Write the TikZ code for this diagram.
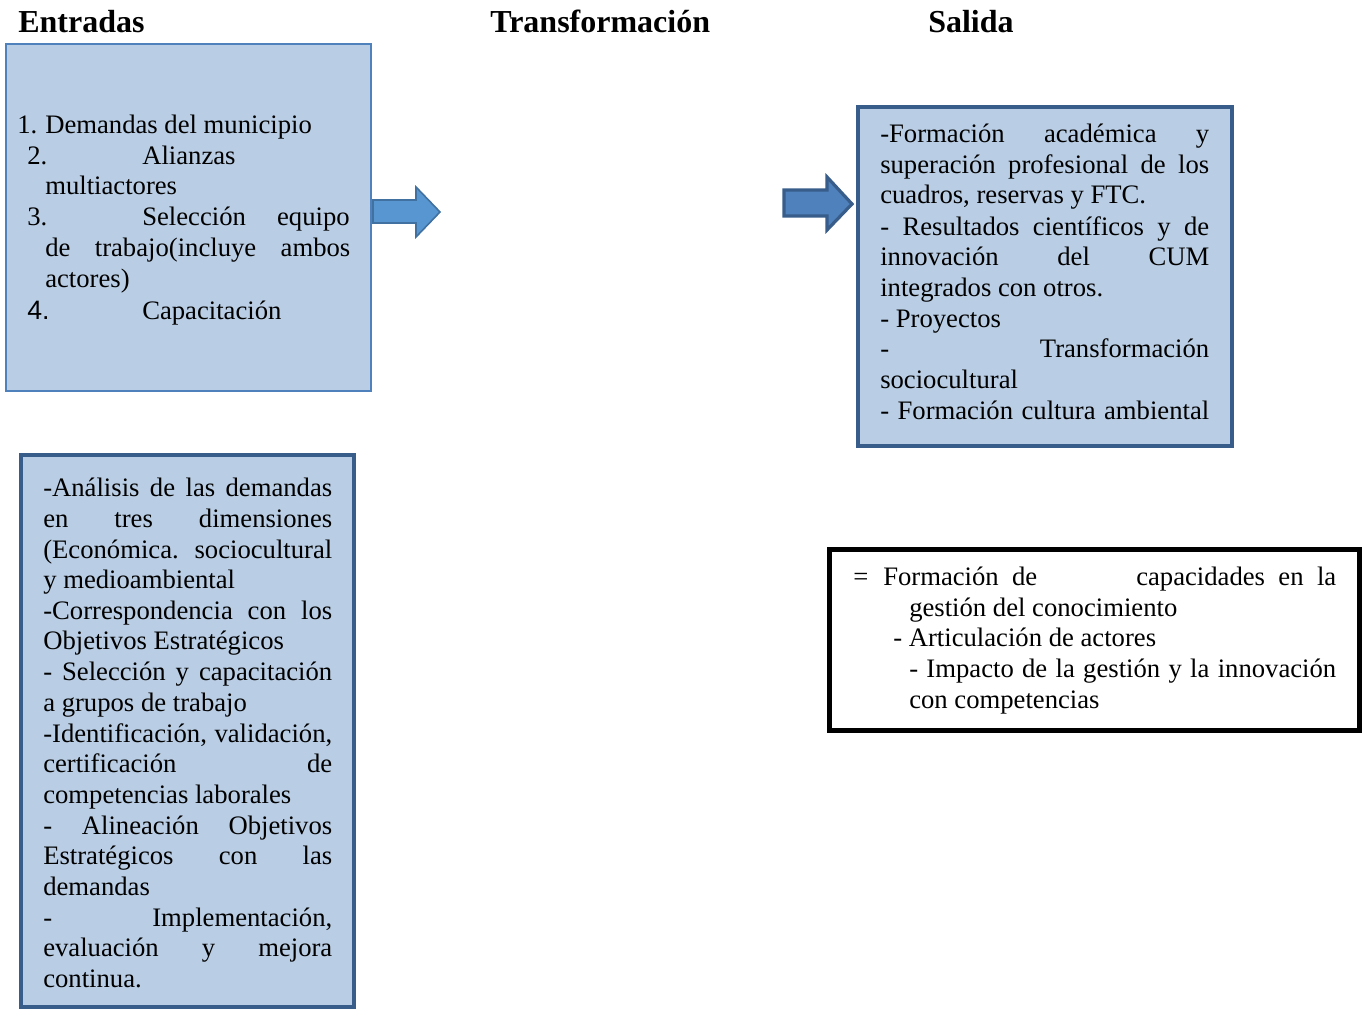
\documentclass[tikz,border=0pt]{standalone}
\usepackage{fontspec}
\setmainfont{Liberation Serif}
\newfontfamily\arialfont{Liberation Sans}
\usepackage{tikz}
\definecolor{boxfill}{RGB}{185,205,228}
\definecolor{boxline}{RGB}{79,129,189}
\definecolor{darkline}{RGB}{56,93,138}
\definecolor{arrowfill}{RGB}{88,150,210}
\definecolor{arrowline}{RGB}{65,113,160}
\definecolor{arrowfilltwo}{RGB}{79,129,189}
\tikzset{
  txt/.style={inner sep=0pt, anchor=base west, font=\fontsize{20}{23}\selectfont},
  head/.style={inner sep=0pt, anchor=base west, font=\fontsize{24}{28}\selectfont\bfseries},
  entbox/.style={draw=boxline, fill=boxfill, line width=1.5pt},
  procbox/.style={draw=darkline, fill=boxfill, line width=3pt},
  resbox/.style={draw=black, line width=3.75pt}
}
\newcommand*{\LeftLines}[2]{% #1 = name prefix, #2 = list of x/y/text
\foreach \x/\y/\text [count=\i] in {#2} {
\node [txt] (#1\i) at (\x,\y) {\text};
}%
}
\newcommand*{\JustLines}[3]{% #1 = name prefix, #2 = width, #3 = list of x/y/text
\foreach \x/\y/\text [count=\i] in {#3} {
\node [txt] (#1\i) at (\x,\y) {\makebox[#2][s]{\text}};
}%
}

\begin{document}
\begin{tikzpicture}[x=0.75pt,y=-0.75pt]
\useasboundingbox (0,0) rectangle (1362,1009);

% headings
\node [head] (hin) at (18,33) {Entradas};
\node [head] (htr) at (490,33) {Transformación};
\node [head] (hout) at (928,33) {Salida};

% boxes
\draw [entbox] (6,44) rectangle (371,391);
\draw [procbox] (21,455) rectangle (354,1007);
\draw [procbox] (858,107) rectangle (1232,446);
\draw [resbox] (829,549) rectangle (1359,730);

% arrows
\draw [fill=arrowfill, draw=arrowline, line width=1.2pt]
  (373,200) -- (416,200) -- (416,187) -- (440,212) -- (416,237)
  -- (416,223) -- (373,223) -- cycle;
\draw [fill=arrowfilltwo, draw=darkline, line width=2.4pt]
  (784,190) -- (827,190) -- (827,177) -- (852,204) -- (827,230)
  -- (827,216) -- (784,216) -- cycle;

% entradas
\LeftLines{en}{17/134/1., 45/134/Demandas del municipio,
  27/165/2., 142/165/Alianzas, 45/195/multiactores,
  27/226/3., 142/226/Selección, 45/287/actores),
  142/319/Capacitación}
\node [txt, anchor=base east] (eq) at (350,226) {equipo};
\JustLines{ent}{228.75pt}{45/256/de trabajo(incluye ambos}
\node [txt, font=\fontsize{20}{23}\arialfont] (four) at (27,319) {4.};

% proceso
\JustLines{pj}{216.75pt}{43/496/-Análisis de las demandas,
  43/527/en tres dimensiones,
  43/558/(Económica. sociocultural,
  43/619/-Correspondencia con los,
  43/680/- Selección y capacitación,
  43/742/{-Identificación, validación,},
  43/772/certificación de,
  43/834/- Alineación Objetivos,
  43/864/Estratégicos con las,
  43/926/{- Implementación,},
  43/956/evaluación y mejora}
\LeftLines{pl}{43/588/y medioambiental,
  43/649/Objetivos Estratégicos,
  43/711/a grupos de trabajo,
  43/803/competencias laborales,
  43/895/demandas,
  43/987/continua.}

% salida
\JustLines{sj}{246.75pt}{880/143/-Formación académica y,
  880/174/superación profesional de los,
  880/235/- Resultados científicos y de,
  880/265/innovación del CUM,
  880/357/- Transformación,
  880/419/- Formación cultura ambiental}
\LeftLines{sl}{880/204/{cuadros, reservas y FTC.},
  880/296/integrados con otros.,
  880/327/- Proyectos,
  880/388/sociocultural}

% resultados
\LeftLines{rl}{853/585/=,
  909/616/gestión del conocimiento,
  893/646/- Articulación de actores,
  909/708/con competencias}
\JustLines{rja}{115.5pt}{883/585/Formación de}
\JustLines{rjb}{150pt}{1136/585/capacidades en la}
\JustLines{rjc}{320.25pt}{909/677/- Impacto de la gestión y la innovación}

\end{tikzpicture}
\end{document}
